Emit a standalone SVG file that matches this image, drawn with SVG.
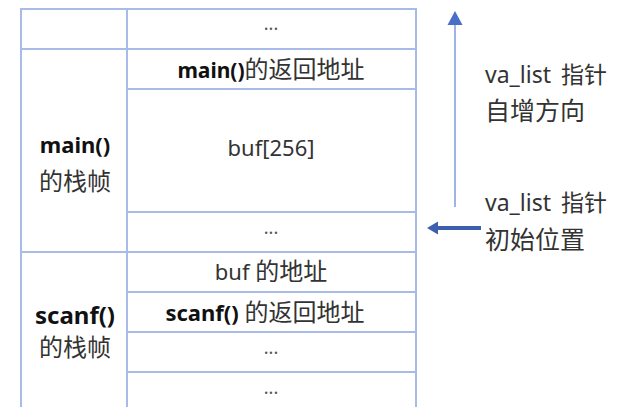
<svg xmlns="http://www.w3.org/2000/svg" width="623" height="407" viewBox="0 0 623 407">
<defs>
<style>
.grid{stroke:#a8bbe8;stroke-width:2;fill:none}
.t{font-family:"Noto Sans","Noto Sans CJK SC",sans-serif;fill:#333;font-size:22px}
.c{text-anchor:middle}
.b{font-weight:bold;fill:#111}
.d{fill:#555;font-size:18px}
.r{font-family:"Noto Sans","Noto Sans CJK SC",sans-serif;fill:#333;font-size:23px}
</style>
</defs>
<rect width="623" height="407" fill="#fff"/>
<g id="grid">
<path class="grid" d="M21,408 V9 H416 V408 M127,9 V408 M21,49 H416 M127,89 H416 M127,212 H416 M21,252 H416 M127,292 H416 M127,332 H416 M127,372 H416"/>
</g>
<g id="main-frame-label"><text class="t c b" x="75" y="153">main()</text><text class="t c" x="75" y="190" style="font-size:24px">的栈帧</text></g>
<g id="scanf-frame-label"><text class="t c b" x="75" y="324" style="font-size:24px">scanf()</text><text class="t c" x="75" y="356" style="font-size:24px">的栈帧</text></g>
<g id="cell-top"><text class="t c d" x="271" y="30">...</text></g>
<g id="cell-main-ret"><text class="t c" x="271" y="78"><tspan class="b" style="font-size:21px">main()</tspan><tspan style="font-size:24px">的返回地址</tspan></text></g>
<g id="cell-buf"><text class="t c" x="271" y="156">buf[256]</text></g>
<g id="cell-dots1"><text class="t c d" x="271" y="234">...</text></g>
<g id="cell-bufaddr"><text class="t c" x="271" y="280">buf <tspan style="font-size:24px">的地址</tspan></text></g>
<g id="cell-scanf-ret"><text class="t c" x="265" y="321"><tspan class="b">scanf()</tspan> <tspan style="font-size:24px">的返回地址</tspan></text></g>
<g id="cell-dots2"><text class="t c d" x="271" y="354">...</text></g>
<g id="cell-dots3"><text class="t c d" x="271" y="394">...</text></g>
<g id="labels">
<text class="r" x="485" y="83">va_list<tspan dx="10">指针</tspan></text>
<text class="r" x="485" y="120" style="font-size:25px">自增方向</text>
<text class="r" x="485" y="211">va_list<tspan dx="10">指针</tspan></text>
<text class="r" x="485" y="249" style="font-size:25px">初始位置</text>
</g>
<g id="connectors">
<line x1="455" y1="207" x2="455" y2="24" stroke="#9fb4e6" stroke-width="2"/>
<path d="M455,11 L462.5,25 L447.5,25 Z" fill="#4a6fc8"/>
<line x1="481" y1="228" x2="436" y2="228" stroke="#3d5fae" stroke-width="4"/>
<path d="M427,228 L438,221.5 L438,234.5 Z" fill="#3d5fae"/>
</g>
</svg>
